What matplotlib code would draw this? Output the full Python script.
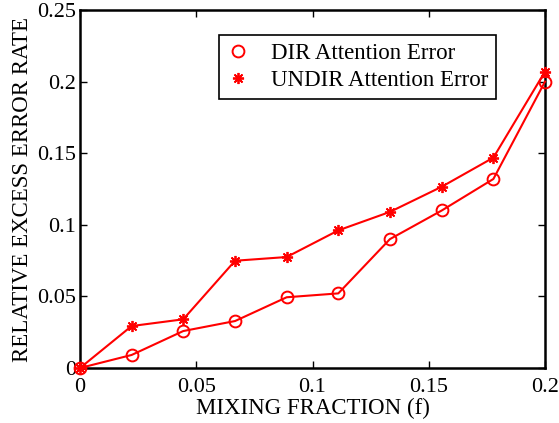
import matplotlib
matplotlib.use("Agg")
import matplotlib.pyplot as plt

plt.rcParams['font.family'] = ['Liberation Serif', 'DejaVu Serif']
plt.rcParams['mathtext.fontset'] = 'stix'

mixing_fraction = [0, 0.0222, 0.0444, 0.0667, 0.0889, 0.1111, 0.1333, 0.1556, 0.1778, 0.2]
dir_error = [0, 0.0091, 0.0258, 0.0328, 0.0494, 0.0521, 0.090, 0.110, 0.132, 0.200]
undir_error = [0, 0.0293, 0.034, 0.0749, 0.0775, 0.0961, 0.109, 0.1266, 0.1469, 0.207]

xticks = [0, 0.05, 0.1, 0.15, 0.2]
xticklabels = ['0', '0.05', '0.1', '0.15', '0.2']
yticks = [0, 0.05, 0.1, 0.15, 0.2, 0.25]
yticklabels = ['0', '0.05', '0.1', '0.15', '0.2', '0.25']

fig = plt.figure(figsize=(5.59, 4.23), dpi=100)
ax = fig.add_axes([80/559, 55/423, 465/559, 358/423])

ax.plot(mixing_fraction, dir_error, color='#ff0000', lw=1.5, marker='o',
        markersize=8.5, markerfacecolor='none', markeredgewidth=1.4,
        label='DIR Attention Error', clip_on=False, zorder=3)
ax.plot(mixing_fraction, undir_error, color='#ff0000', lw=1.5, marker=(8, 2, 0),
        markersize=8, markeredgewidth=1.3,
        label='UNDIR Attention Error', clip_on=False, zorder=3)

ax.set_xlim(0, 0.2)
ax.set_ylim(0, 0.25)
ax.set_xticks(xticks)
ax.set_xticklabels(xticklabels)
ax.set_yticks(yticks)
ax.set_yticklabels(yticklabels)
ax.tick_params(axis='both', direction='in', top=True, right=True, labelsize=16,
               length=5, width=1)
ax.tick_params(axis='x', pad=7)
ax.tick_params(axis='y', pad=3)
for s in ax.spines.values():
    s.set_linewidth(1.8)

ax.set_xlabel('MIXING FRACTION (f)', fontsize=16.5, labelpad=1)
ax.set_ylabel('RELATIVE EXCESS ERROR RATE', fontsize=16.5, labelpad=3)

leg = ax.legend(loc='upper left', bbox_to_anchor=((219-80)/465, (368-35)/358),
                borderaxespad=0, fontsize=16.5, fancybox=False, framealpha=1,
                edgecolor='black', handlelength=1.0, handletextpad=0.9,
                borderpad=0.35, labelspacing=0.25)
leg.get_frame().set_linewidth(1.2)
for h in leg.legend_handles:
    h.set_linestyle('none')

fig.savefig('out.png', dpi=100)
